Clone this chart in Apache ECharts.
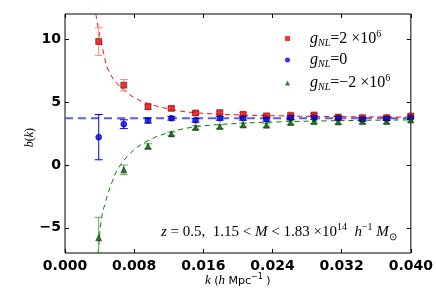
<!DOCTYPE html>
<html><head><meta charset="utf-8">
<script src="https://cdn.jsdelivr.net/npm/echarts@6/dist/echarts.min.js"></script>
<style>html,body{margin:0;padding:0;background:#fff}#c{width:436px;height:291px}</style>
</head><body><div id="c"></div>
<script>
const kVals = [0.0039,0.0068,0.0096,0.0123,0.0151,0.0179,0.0206,0.0233,0.0261,0.0288,0.0316,0.0344,0.0372,0.0400];
const redB = [9.81,6.34,4.63,4.50,4.13,4.16,4.03,3.90,3.95,3.97,3.81,3.76,3.76,3.89];
const redErr = [1.1,0.45,0.2,0.15,0.12,0.12,0.12,0.12,0.12,0.12,0.12,0.12,0.12,0.12];
const blueB = [2.21,3.24,3.53,3.71,3.55,3.71,3.71,3.63,3.76,3.76,3.71,3.63,3.68,3.76];
const blueErr = [1.8,0.35,0.2,0.15,0.15,0.15,0.15,0.15,0.15,0.15,0.15,0.15,0.15,0.15];
const greenB = [-5.79,-0.39,1.48,2.47,2.97,3.05,3.18,3.16,3.37,3.45,3.42,3.45,3.45,3.58];
const greenErr = [1.63,0.38,0.2,0.15,0.15,0.15,0.15,0.15,0.15,0.15,0.15,0.15,0.15,0.15];
const redFitK = [0.00356,0.00402,0.0045,0.00498,0.00613,0.00805,0.00996,0.01226,0.0149,0.020,0.025,0.030,0.035,0.040];
const redFitB = [12.0,10.3,8.8,7.58,6.39,5.34,4.81,4.42,4.16,3.98,3.9,3.85,3.82,3.8];
const greenFitK = [0.0037,0.00383,0.00422,0.00468,0.00537,0.00613,0.00766,0.00958,0.01226,0.01533,0.020,0.025,0.030,0.035,0.040];
const greenFitB = [-7.8,-6.9,-4.26,-2.94,-1.5,-0.32,1.0,1.92,2.63,3.05,3.3,3.43,3.5,3.55,3.58];
const blueFitK = [0.0, 0.04];
const blueFitB = [3.71, 3.71];
const xTicks = [0, 0.008, 0.016, 0.024, 0.032, 0.04];
const yTicks = [-5, 0, 5, 10];

const chart = echarts.init(document.getElementById('c'), null, {renderer:'canvas'});
const pair = (a,b) => a.map((v,i)=>[v,b[i]]);
const errData = (b,e) => kVals.map((k,i)=>[k,b[i]-e[i],b[i]+e[i]]);
function errSeries(b,e,color){
  return {type:'custom', data: errData(b,e), clip:true, z:3, silent:true,
    renderItem(params, api){
      const p1 = api.coord([api.value(0), api.value(1)]);
      const p2 = api.coord([api.value(0), api.value(2)]);
      const w = 4;
      const st = {stroke: color, lineWidth: 1};
      return {type:'group', children:[
        {type:'line', shape:{x1:p1[0],y1:p1[1],x2:p2[0],y2:p2[1]}, style:st},
        {type:'line', shape:{x1:p1[0]-w,y1:p1[1],x2:p1[0]+w,y2:p1[1]}, style:st},
        {type:'line', shape:{x1:p2[0]-w,y1:p2[1],x2:p2[0]+w,y2:p2[1]}, style:st}
      ]};
    }};
}
const serif = 'Liberation Serif';
const leg = {
  i:{fontFamily:serif, fontStyle:'italic', fontSize:16, color:'#000', lineHeight:19, verticalAlign:'middle'},
  sub:{fontFamily:serif, fontStyle:'italic', fontSize:10, color:'#000', lineHeight:10, verticalAlign:'bottom'},
  t:{fontFamily:serif, fontSize:16, color:'#000', lineHeight:19, verticalAlign:'middle'},
  sup:{fontFamily:serif, fontSize:10, color:'#000', lineHeight:10, verticalAlign:'top'},
  sp:{width:15}
};
const legNames = {gp:'{sp|}{i|g}{sub|NL}{t|=2 ×10}{sup|6}', g0:'{sp|}{i|g}{sub|NL}{t|=0}', gm:'{sp|}{i|g}{sub|NL}{t|=−2 ×10}{sup|6}'};

const tickStyle = {inside:true, length:4, lineStyle:{color:'#000'}};
chart.setOption({
  animation:false,
  grid:{left:65, right:23, top:14, bottom:38, show:true, borderColor:'#000', borderWidth:1},
  legend:{orient:'vertical', left:280, top:24, itemWidth:5, itemHeight:5, itemGap:4,
    itemStyle:{borderWidth:0},
    data:[{name:'gp', icon:'rect'},{name:'g0', icon:'circle'},{name:'gm', icon:'triangle'}],
    formatter: n => legNames[n], textStyle:{rich:leg}},
  xAxis:[
    {type:'value', min:0, max:0.04, interval:0.008, position:'bottom',
     axisLine:{show:false, onZero:false}, splitLine:{show:false}, axisTick:tickStyle,
     axisLabel:{formatter:v=>v.toFixed(3), fontFamily:'DejaVu Sans', fontWeight:'bold', fontSize:14, color:'#000', margin:6}},
    {type:'value', min:0, max:0.04, interval:0.008, position:'top',
     axisLine:{show:false, onZero:false}, splitLine:{show:false}, axisTick:tickStyle, axisLabel:{show:false}}
  ],
  yAxis:[
    {type:'value', min:-7, max:12, position:'left',
     axisLine:{show:false, onZero:false}, splitLine:{show:false},
     axisTick:Object.assign({customValues:yTicks}, tickStyle),
     axisLabel:{customValues:yTicks, formatter:v=>String(v).replace('-','−'), fontFamily:'DejaVu Sans', fontWeight:'bold', fontSize:14, color:'#000', margin:4}},
    {type:'value', min:-7, max:12, position:'right',
     axisLine:{show:false, onZero:false}, splitLine:{show:false},
     axisTick:Object.assign({customValues:yTicks}, tickStyle), axisLabel:{show:false}}
  ],
  graphic:[
    {type:'text', left:24, top:128, rotation:Math.PI/2, style:{text:'{i|b}{t|(}{i|k}{t|)}', rich:{
      i:{fontFamily:serif, fontStyle:'italic', fontSize:12, fill:'#000'}, t:{fontFamily:serif, fontSize:12, fill:'#000'}}}},
    {type:'text', left:161, top:222, style:{text:'{i|z}{t| = 0.5,  1.15 < }{i|M}{t| < 1.83 ×10}{sup|14}{t|  }{i|h}{sup|−1}{t| }{i|M}{sub|⊙}', rich:{
      i:{fontFamily:serif, fontStyle:'italic', fontSize:15, fill:'#000', lineHeight:20, verticalAlign:'middle'},
      t:{fontFamily:serif, fontSize:15, fill:'#000', lineHeight:20, verticalAlign:'middle'},
      sup:{fontFamily:serif, fontSize:10, fill:'#000', lineHeight:10, verticalAlign:'top'},
      sub:{fontFamily:serif, fontSize:10, fill:'#000', lineHeight:10, verticalAlign:'bottom'}}}},
    {type:'text', left:205, top:273, style:{text:'{i|k}{s| (}{i|h}{s| Mpc}{sup|−1}{s| )}', rich:{
      i:{fontFamily:serif, fontStyle:'italic', fontSize:13, fill:'#000', lineHeight:16, verticalAlign:'middle'},
      s:{fontFamily:'DejaVu Sans', fontSize:11, fill:'#000', lineHeight:16, verticalAlign:'middle'},
      sup:{fontFamily:'DejaVu Sans', fontSize:8, fill:'#000', lineHeight:8, verticalAlign:'top'}}}}
  ],
  series:[
    {type:'line', data:pair(blueFitK, blueFitB), symbol:'none', z:1, silent:true,
     lineStyle:{color:'#5b5bff', width:2, type:[8,5]}},
    {type:'line', data:pair(redFitK, redFitB), symbol:'none', smooth:0.4, z:2, silent:true,
     lineStyle:{color:'#ff0000', width:1, type:[5,4]}},
    {type:'line', data:pair(greenFitK, greenFitB), symbol:'none', smooth:0.4, z:2, silent:true,
     lineStyle:{color:'#008000', width:1, type:[5,4]}},
    errSeries(redB, redErr, '#ff8888'),
    errSeries(blueB, blueErr, '#0000ff'),
    errSeries(greenB, greenErr, '#55aa55'),
    {name:'gp', type:'scatter', data:pair(kVals, redB), symbol:'rect', symbolSize:6, z:5,
     itemStyle:{color:'#ff0000', borderColor:'#000', borderWidth:0.6}},
    {name:'g0', type:'scatter', data:pair(kVals, blueB), symbol:'circle', symbolSize:6, z:5,
     itemStyle:{color:'#0000ff', borderColor:'#000', borderWidth:0.6}},
    {name:'gm', type:'scatter', data:pair(kVals, greenB), symbol:'triangle', symbolSize:6, z:5,
     itemStyle:{color:'#006400', borderColor:'#000', borderWidth:0.6}}
  ]
});
</script></body></html>
